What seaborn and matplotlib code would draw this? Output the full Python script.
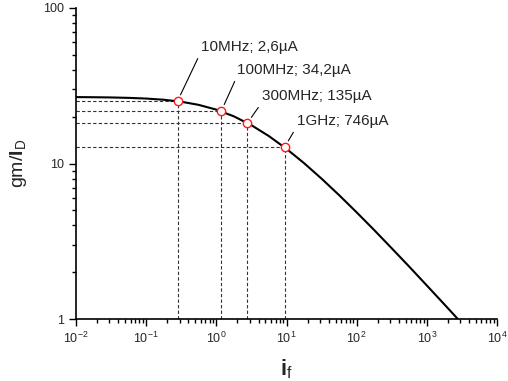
import matplotlib
matplotlib.use("Agg")
import matplotlib.pyplot as plt
import seaborn as sns
import pandas as pd
from matplotlib.ticker import LogLocator, LogFormatterSciNotation, FixedLocator, FixedFormatter, NullFormatter

# curve (inversion coefficient vs gm/ID)
if_curve = [0.01, 0.0178, 0.0316, 0.0562, 0.1, 0.178, 0.316, 0.562, 1.0, 1.78, 3.16, 5.62,
            10.0, 17.8, 31.6, 56.2, 100.0, 178.0, 316.0, 562.0, 1000.0, 1780.0, 2880.0]
gmid_curve = [26.73, 26.68, 26.59, 26.43, 26.16, 25.70, 24.96, 23.82, 22.20, 20.10, 17.63, 15.00,
              12.42, 10.05, 7.99, 6.26, 4.85, 3.73, 2.85, 2.17, 1.642, 1.241, 0.98]

# marked operating points
if_points = [0.28, 1.18, 2.77, 9.46]
gmid_points = [25.2, 21.8, 18.2, 12.8]
point_labels = ["10MHz; 2,6\u00b5A", "100MHz; 34,2\u00b5A", "300MHz; 135\u00b5A", "1GHz; 746\u00b5A"]

x_ticks = [1e-2, 1e-1, 1e0, 1e1, 1e2, 1e3, 1e4]
y_ticks = [1, 10, 100]
y_tick_labels = ["1", "10", "100"]

sns.set_style("ticks")
plt.rcParams['font.family'] = ['Liberation Sans', 'DejaVu Sans']
plt.rcParams['mathtext.fontset'] = 'custom'
plt.rcParams['mathtext.rm'] = 'Liberation Sans'
plt.rcParams['mathtext.bf'] = 'Liberation Sans:bold'

fig = plt.figure(figsize=(5.08, 3.81), dpi=100)
ax = fig.add_axes([76/508, 1-319/381, (497-76)/508, (319-8)/381])

xmin, xmax, ymin, ymax = 1e-2, 1e4, 1, 100

# dashed guide lines
for xp, yp in zip(if_points, gmid_points):
    ax.plot([xmin, xp], [yp, yp], ls=(0, (3, 2)), color='#333333', lw=0.8, zorder=1)
    ax.plot([xp, xp], [ymin, yp], ls=(0, (3, 2)), color='#333333', lw=0.8, zorder=1)

df = pd.DataFrame({"if": if_curve, "gmid": gmid_curve})
sns.lineplot(data=df, x="if", y="gmid", ax=ax, color='black', lw=1.5, zorder=2, sort=False)

dp = pd.DataFrame({"if": if_points, "gmid": gmid_points})
sns.scatterplot(data=dp, x="if", y="gmid", ax=ax, s=36, facecolor='white', edgecolor='#ff1a1a',
                linewidth=1.0, zorder=3)

offsets = [(23, 54), (16, 41), (15, 27), (12, 26)]
for xp, yp, lab, (dx, dy) in zip(if_points, gmid_points, point_labels, offsets):
    ax.annotate(lab, xy=(xp, yp), xytext=(dx, dy), textcoords='offset pixels',
                ha='left', va='center', fontsize=11,
                arrowprops=dict(arrowstyle='-', color='black', lw=0.8, shrinkA=1, shrinkB=5,
                                relpos=(0.0, 0.1)))

ax.set_xscale('log')
ax.set_yscale('log')
ax.set_xlim(xmin, xmax)
ax.set_ylim(ymin, ymax)
ax.xaxis.set_major_locator(FixedLocator(x_ticks))
ax.xaxis.set_major_formatter(LogFormatterSciNotation())
ax.xaxis.set_minor_locator(LogLocator(base=10, subs=range(2, 10), numticks=20))
ax.xaxis.set_minor_formatter(NullFormatter())
ax.yaxis.set_major_locator(FixedLocator(y_ticks))
ax.yaxis.set_major_formatter(FixedFormatter(y_tick_labels))
ax.yaxis.set_minor_locator(LogLocator(base=10, subs=range(2, 10), numticks=20))
ax.yaxis.set_minor_formatter(NullFormatter())

ax.tick_params(which='major', direction='out', length=5, width=1, labelsize=9, color='black')
ax.tick_params(which='minor', direction='out', length=3, width=1, color='black')
sns.despine(ax=ax)
for s in ['left', 'bottom']:
    ax.spines[s].set_linewidth(1.2)
    ax.spines[s].set_color('black')

ax.set_xlabel(r'$\mathbf{i}_\mathrm{f}$', fontsize=16, labelpad=8)
ax.set_ylabel(r'gm/$\mathbf{I}_\mathrm{D}$', fontsize=14, labelpad=10)
ax.grid(False)

fig.savefig("out.png", dpi=100)
